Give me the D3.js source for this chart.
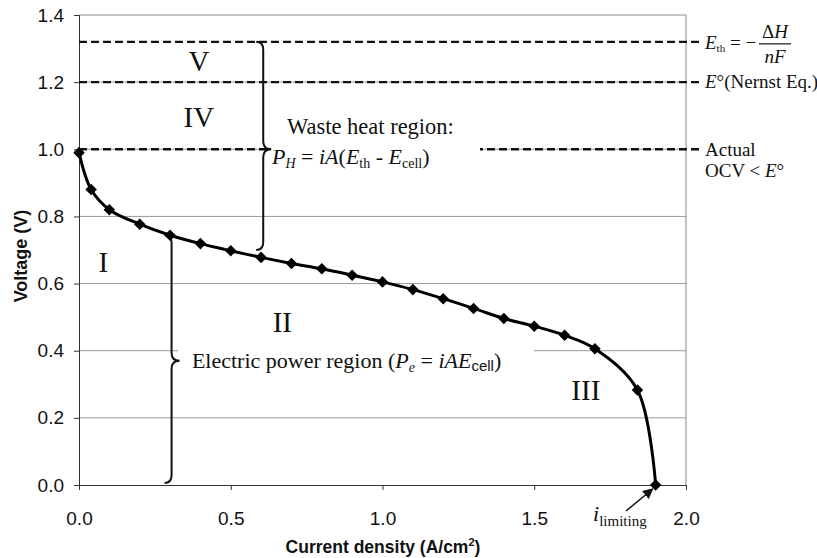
<!DOCTYPE html>
<html>
<head>
<meta charset="utf-8">
<script src="https://cdnjs.cloudflare.com/ajax/libs/d3/7.8.5/d3.min.js"></script>
<style>
  body { margin: 0; background: #fff; }
  .serif { font-family: "Liberation Serif", "Times New Roman", serif; fill: #111; }
  .sans { font-family: "Liberation Sans", Arial, sans-serif; fill: #111; }
</style>
</head>
<body>
<script>
// polarization curve
const currentDensity = [0, 0.04, 0.1, 0.2, 0.3, 0.4, 0.5, 0.6, 0.7, 0.8, 0.9, 1.0,
                        1.1, 1.2, 1.3, 1.4, 1.5, 1.6, 1.7, 1.84, 1.9];
const voltage = [0.99, 0.88, 0.82, 0.777, 0.744, 0.719, 0.698, 0.678, 0.660, 0.644, 0.625, 0.605,
                 0.582, 0.555, 0.526, 0.496, 0.473, 0.446, 0.406, 0.283, 0.0];

const yTicks = [0, 0.2, 0.4, 0.6, 0.8, 1.0, 1.2, 1.4];
const xTicks = [0, 0.5, 1.0, 1.5, 2.0];

// reference voltages: thermoneutral, Nernst, actual OCV
const levelNames = ['Eth', 'E0', 'OCV'];
const levelValues = [1.32, 1.2, 1.0];

const regionNames = ['I', 'II', 'III', 'IV', 'V'];

const width = 817, height = 558;
const margin = { left: 79, top: 15, right: 131, bottom: 73 };

const x = d3.scaleLinear().domain([0, 2]).range([margin.left, width - margin.right]);
const y = d3.scaleLinear().domain([0, 1.4]).range([height - margin.bottom, margin.top]);

const svg = d3.select('body').append('svg')
    .attr('width', width)
    .attr('height', height);

// gridlines
svg.append('g')
    .selectAll('line')
    .data(yTicks.filter(d => d > 0 && d < 1.4))
    .join('line')
    .attr('x1', x(0)).attr('x2', x(2))
    .attr('y1', d => y(d)).attr('y2', d => y(d))
    .attr('stroke', '#9a9a9a').attr('stroke-width', 1);

// plot frame (top + right)
svg.append('path')
    .attr('d', `M${x(0)},${y(1.4)}H${x(2)}V${y(0)}`)
    .attr('fill', 'none').attr('stroke', '#8a8a8a').attr('stroke-width', 1);

// axes
const yAxis = svg.append('g')
    .attr('transform', `translate(${x(0)},0)`)
    .call(d3.axisLeft(y).tickValues(yTicks).tickFormat(d3.format('.1f')).tickSize(5).tickPadding(10));
const xAxis = svg.append('g')
    .attr('transform', `translate(0,${y(0)})`)
    .call(d3.axisBottom(x).tickValues(xTicks).tickFormat(d3.format('.1f')).tickSize(5).tickPadding(22));

[yAxis, xAxis].forEach(g => {
  g.select('.domain').attr('stroke', '#333');
  g.selectAll('.tick line').attr('stroke', '#333');
  g.selectAll('.tick text')
      .attr('class', 'sans')
      .style('font-size', '19px');
});

svg.append('text')
    .attr('class', 'sans')
    .attr('transform', `translate(27,${(y(0) + y(1.4)) / 2 + 6}) rotate(-90)`)
    .attr('text-anchor', 'middle')
    .style('font-size', '18px').style('font-weight', 'bold')
    .text('Voltage (V)');

const xt = svg.append('text')
    .attr('class', 'sans')
    .attr('x', 383).attr('y', 553)
    .attr('text-anchor', 'middle')
    .style('font-size', '17.5px').style('font-weight', 'bold');
xt.append('tspan').text('Current density (A/cm');
xt.append('tspan').attr('dy', -7).style('font-size', '11px').text('2');
xt.append('tspan').attr('dy', 7).text(')');

// dashed reference levels, run past the frame to the labels
const dashRight = 699;
svg.append('g')
    .selectAll('line')
    .data(levelValues)
    .join('line')
    .attr('x1', x(0)).attr('x2', dashRight)
    .attr('y1', d => y(d)).attr('y2', d => y(d))
    .attr('stroke', '#111').attr('stroke-width', 2.4)
    .attr('stroke-dasharray', '8,4');

// curly brace helper (opens to the left, tip to the right)
function brace(xc, yTop, yBot, yTip) {
  const h = 7, r = 8, w = 8;
  return `M${xc - h},${yTop} Q${xc},${yTop} ${xc},${yTop + r}` +
         ` L${xc},${yTip - r} Q${xc},${yTip} ${xc + w},${yTip}` +
         ` Q${xc},${yTip} ${xc},${yTip + r}` +
         ` L${xc},${yBot - r} Q${xc},${yBot} ${xc - h},${yBot}`;
}

// white boxes behind the two region captions (hide grid / dashes)
svg.append('rect')
    .attr('x', 270).attr('y', y(1.0) - 35).attr('width', 210).attr('height', 64)
    .attr('fill', '#fff');
svg.append('rect')
    .attr('x', 178).attr('y', y(0.37) - 21).attr('width', 356).attr('height', 42)
    .attr('fill', '#fff');

// braces
svg.append('path')
    .attr('d', brace(x(0.607), y(1.32), y(0.70), y(1.0)))
    .attr('fill', 'none').attr('stroke', '#111').attr('stroke-width', 2);
svg.append('path')
    .attr('d', brace(x(0.305), y(0.745), y(0.006), y(0.37)))
    .attr('fill', 'none').attr('stroke', '#111').attr('stroke-width', 2);

// polarization curve
const pts = currentDensity.map((c, i) => [c, voltage[i]]);
svg.append('path')
    .datum(pts)
    .attr('fill', 'none')
    .attr('stroke', '#000')
    .attr('stroke-width', 3)
    .attr('d', d3.line().x(d => x(d[0])).y(d => y(d[1])).curve(d3.curveCatmullRom.alpha(0.5)));

svg.append('g')
    .selectAll('path')
    .data(pts)
    .join('path')
    .attr('transform', d => `translate(${x(d[0])},${y(d[1])})`)
    .attr('d', d3.symbol(d3.symbolDiamond2, 85))
    .attr('fill', '#000');

// region numerals
const regionPos = { I: [0.08, 0.665], II: [0.67, 0.487], III: [1.67, 0.284], IV: [0.395, 1.096], V: [0.395, 1.263] };
svg.append('g')
    .selectAll('text')
    .data(regionNames)
    .join('text')
    .attr('class', 'serif')
    .attr('x', d => x(regionPos[d][0]))
    .attr('y', d => y(regionPos[d][1]))
    .attr('dy', '0.35em')
    .attr('text-anchor', 'middle')
    .style('font-size', '29px')
    .text(d => d);

// waste heat caption
svg.append('text')
    .attr('class', 'serif')
    .attr('x', 287).attr('y', y(1.0) - 15)
    .style('font-size', '22.5px')
    .text('Waste heat region:');
const ph = svg.append('text')
    .attr('class', 'serif')
    .attr('x', 272).attr('y', y(1.0) + 15)
    .style('font-size', '22px');
ph.append('tspan').style('font-style', 'italic').text('P');
ph.append('tspan').style('font-style', 'italic').style('font-size', '14px').attr('dy', 4).text('H');
ph.append('tspan').attr('dy', -4).text(' = ');
ph.append('tspan').style('font-style', 'italic').text('iA');
ph.append('tspan').text('(');
ph.append('tspan').style('font-style', 'italic').text('E');
ph.append('tspan').style('font-size', '14px').attr('dy', 4).text('th');
ph.append('tspan').attr('dy', -4).text(' - ');
ph.append('tspan').style('font-style', 'italic').text('E');
ph.append('tspan').style('font-size', '14px').attr('dy', 4).text('cell');
ph.append('tspan').attr('dy', -4).text(')');

// electric power caption
const ep = svg.append('text')
    .attr('class', 'serif')
    .attr('x', x(0.372)).attr('y', y(0.37) + 7)
    .style('font-size', '22px');
ep.append('tspan').text('Electric power region (');
ep.append('tspan').style('font-style', 'italic').text('P');
ep.append('tspan').style('font-style', 'italic').style('font-size', '14px').attr('dy', 4).text('e');
ep.append('tspan').attr('dy', -4).text(' = ');
ep.append('tspan').style('font-style', 'italic').text('iAE');
ep.append('tspan').attr('class', 'sans').style('font-size', '15px').attr('dy', 3).text('cell');
ep.append('tspan').attr('dy', -3).text(')');

// right-hand level labels
const lx = 705;
const eth = svg.append('text').attr('class', 'serif')
    .attr('x', lx).attr('y', y(1.32) + 7).style('font-size', '19px');
eth.append('tspan').style('font-style', 'italic').text('E');
eth.append('tspan').style('font-size', '11px').attr('dy', 3).text('th');
eth.append('tspan').attr('dy', -3).text(' = −');
svg.append('line')
    .attr('x1', 759).attr('x2', 791)
    .attr('y1', y(1.32) + 2).attr('y2', y(1.32) + 2)
    .attr('stroke', '#111').attr('stroke-width', 1.2);
const num = svg.append('text').attr('class', 'serif')
    .attr('x', 775).attr('y', y(1.32) - 4).attr('text-anchor', 'middle').style('font-size', '19px');
num.append('tspan').text('Δ');
num.append('tspan').style('font-style', 'italic').text('H');
svg.append('text').attr('class', 'serif')
    .attr('x', 775).attr('y', y(1.32) + 21).attr('text-anchor', 'middle')
    .style('font-size', '19px').style('font-style', 'italic').text('nF');

const e0 = svg.append('text').attr('class', 'serif')
    .attr('x', lx).attr('y', y(1.2) + 6).style('font-size', '19px');
e0.append('tspan').style('font-style', 'italic').text('E');
e0.append('tspan').text('°(Nernst Eq.)');

svg.append('text').attr('class', 'serif')
    .attr('x', lx).attr('y', y(1.0) + 7).style('font-size', '19px').text('Actual');
const ocv = svg.append('text').attr('class', 'serif')
    .attr('x', lx).attr('y', y(1.0) + 28).style('font-size', '19px');
ocv.append('tspan').text('OCV < ');
ocv.append('tspan').style('font-style', 'italic').text('E');
ocv.append('tspan').text('°');

// limiting current label and arrow
svg.append('defs').append('marker')
    .attr('id', 'arrow')
    .attr('viewBox', '0 0 10 10').attr('refX', 9).attr('refY', 5)
    .attr('markerWidth', 7).attr('markerHeight', 7).attr('orient', 'auto')
    .append('path').attr('d', 'M0,0L10,5L0,10z').attr('fill', '#111');
svg.append('line')
    .attr('x1', 626).attr('y1', 511)
    .attr('x2', x(1.9) - 3).attr('y2', y(0) + 4)
    .attr('stroke', '#111').attr('stroke-width', 1.5)
    .attr('marker-end', 'url(#arrow)');
const il = svg.append('text').attr('class', 'serif')
    .attr('x', 593).attr('y', 521).style('font-size', '22px');
il.append('tspan').style('font-style', 'italic').text('i');
il.append('tspan').style('font-size', '15px').attr('dy', 5).text('limiting');
</script>
</body>
</html>
